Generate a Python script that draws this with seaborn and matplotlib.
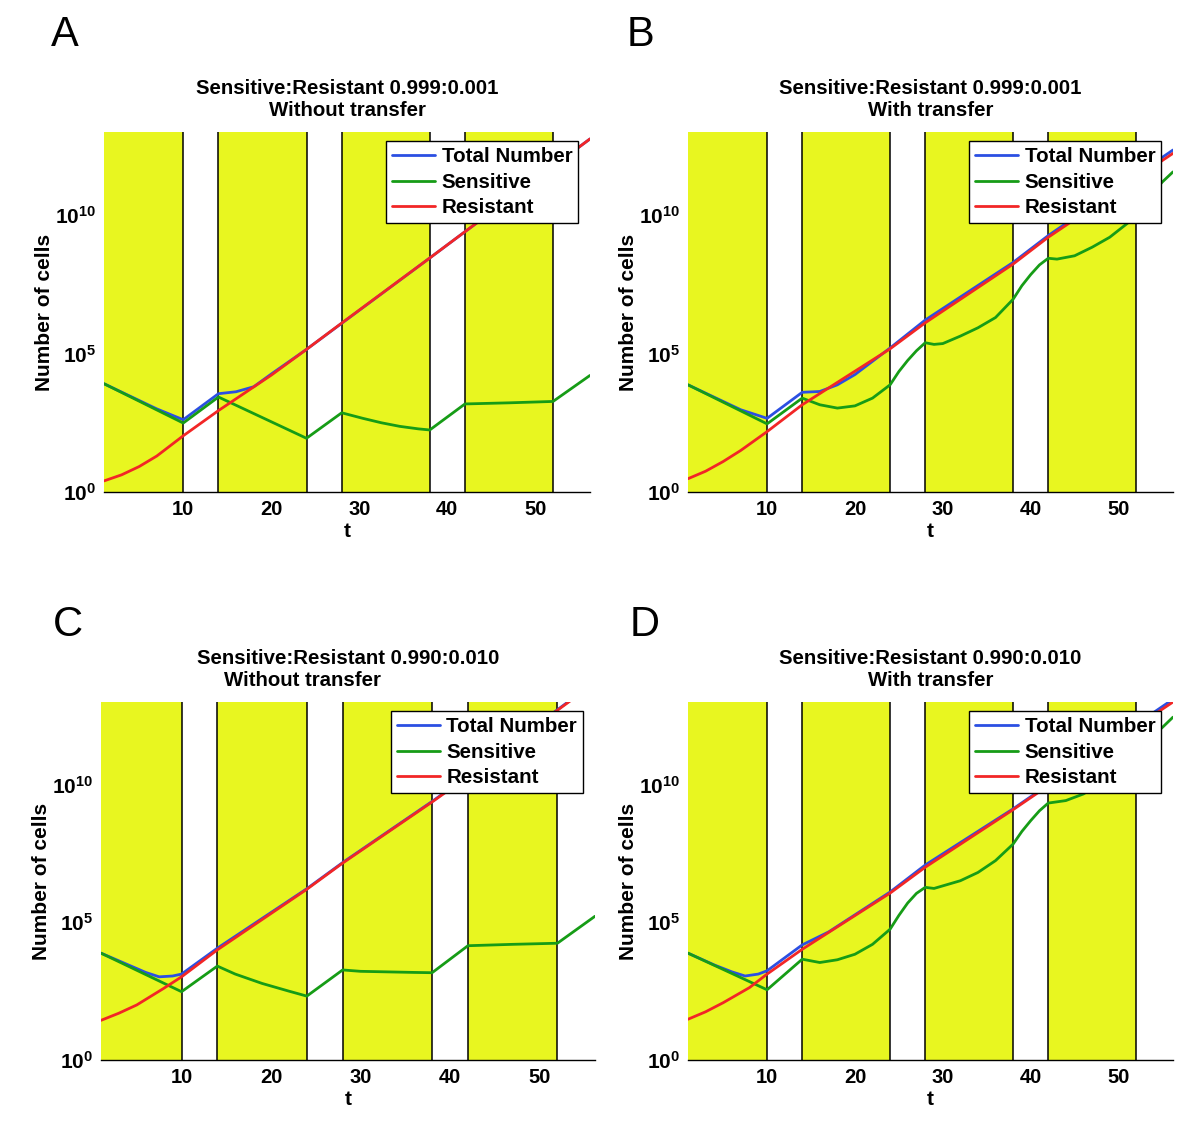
import matplotlib
matplotlib.use("Agg")
import matplotlib.pyplot as plt
import numpy as np
import pandas as pd
import seaborn as sns

# drug schedule: yellow bands are the drug-on periods
drug_start = [1, 14, 28, 42]
drug_stop = [10, 24, 38, 52]

# all cell numbers below are log10(number of cells)

# A: 0.999:0.001, without transfer
t_tot_a = [1, 7, 10, 14, 16, 18, 20, 24, 38, 42, 56.2]
tot_a = [3.91, 3.0, 2.61, 3.55, 3.62, 3.80, 4.26, 5.15, 8.45, 9.40, 12.75]
t_sens_a = [1, 10, 14, 24, 28, 30.4, 32.5, 34.6, 36.7, 38, 42, 47, 52, 56.2]
sens_a = [3.91, 2.49, 3.43, 1.94, 2.86, 2.66, 2.50, 2.37, 2.28, 2.24, 3.18, 3.22, 3.27, 4.21]
t_res_a = [1, 3, 5, 7, 10, 14, 20, 24, 28, 38, 42, 56.2]
res_a = [0.40, 0.62, 0.92, 1.30, 2.03, 2.94, 4.22, 5.15, 6.10, 8.45, 9.40, 12.75]

# B: 0.999:0.001, with transfer
t_tot_b = [1, 7, 10, 14, 16, 18, 20, 24, 28, 38, 42, 56.2]
tot_b = [3.87, 2.97, 2.66, 3.60, 3.63, 3.87, 4.24, 5.20, 6.21, 8.29, 9.26, 12.35]
t_sens_b = [1, 10, 14, 16, 18, 20, 22, 24, 25, 26, 27, 28, 29, 30, 32, 34, 36, 38,
            39, 40, 41, 42, 43, 45, 47, 49, 51, 52, 53, 54, 55, 56.2]
sens_b = [3.87, 2.46, 3.39, 3.15, 3.03, 3.11, 3.39, 3.87, 4.35, 4.75, 5.10, 5.39, 5.33, 5.36,
          5.63, 5.93, 6.30, 6.96, 7.45, 7.85, 8.20, 8.44, 8.41, 8.53, 8.84, 9.20, 9.70, 9.95,
          10.45, 10.85, 11.20, 11.56]
t_res_b = [1, 3, 5, 7, 10, 14, 24, 28, 38, 42, 56.2]
res_b = [0.48, 0.75, 1.10, 1.50, 2.18, 3.15, 5.17, 6.11, 8.23, 9.20, 12.23]

# C: 0.990:0.010, without transfer
t_tot_c = [1, 4, 6, 7.5, 9, 10, 14, 24, 28, 38, 42, 52, 56.2]
tot_c = [3.88, 3.46, 3.18, 3.02, 3.05, 3.12, 4.06, 6.22, 7.17, 9.39, 10.32, 12.72, 13.72]
t_sens_c = [1, 10, 14, 16, 19, 22, 24, 28, 30, 33, 36, 38, 42, 47, 52, 56.2]
sens_c = [3.88, 2.48, 3.41, 3.12, 2.78, 2.50, 2.32, 3.27, 3.22, 3.20, 3.18, 3.17, 4.15, 4.20, 4.24, 5.22]
t_res_c = [1, 3, 5, 8, 10, 14, 24, 28, 38, 42, 52, 56.2]
res_c = [1.44, 1.70, 2.00, 2.60, 3.02, 4.00, 6.20, 7.15, 9.37, 10.30, 12.70, 13.70]

# D: 0.990:0.010, with transfer
t_tot_d = [1, 4, 6, 7.5, 9, 10, 14, 17, 24, 28, 38, 42, 56.2]
tot_d = [3.88, 3.45, 3.20, 3.05, 3.12, 3.24, 4.18, 4.65, 6.10, 7.08, 9.12, 10.00, 13.10]
t_sens_d = [1, 10, 14, 16, 18, 20, 22, 24, 25, 26, 27, 28, 29, 32, 34, 36, 38, 39, 40, 41,
            42, 44, 46, 49, 52, 53, 54, 55, 56.2]
sens_d = [3.88, 2.55, 3.66, 3.54, 3.64, 3.84, 4.20, 4.75, 5.25, 5.70, 6.05, 6.27, 6.23, 6.51,
          6.81, 7.24, 7.84, 8.30, 8.69, 9.05, 9.33, 9.42, 9.66, 10.25, 10.86, 11.40, 11.80,
          12.08, 12.45]
t_res_d = [1, 3, 5, 8, 10, 14, 24, 28, 38, 42, 56.2]
res_d = [1.48, 1.75, 2.08, 2.63, 3.12, 4.02, 6.06, 7.00, 9.09, 9.96, 13.00]

title_top = ["Sensitive:Resistant 0.999:0.001", "Sensitive:Resistant 0.999:0.001",
             "Sensitive:Resistant 0.990:0.010", "Sensitive:Resistant 0.990:0.010"]
title_bottom = ["Without transfer", "With transfer", "Without transfer", "With transfer"]
letters = ["A", "B", "C", "D"]
series_names = ["Total Number", "Sensitive", "Resistant"]

panels = [
    (t_tot_a, tot_a, t_sens_a, sens_a, t_res_a, res_a),
    (t_tot_b, tot_b, t_sens_b, sens_b, t_res_b, res_b),
    (t_tot_c, tot_c, t_sens_c, sens_c, t_res_c, res_c),
    (t_tot_d, tot_d, t_sens_d, sens_d, t_res_d, res_d),
]

sns.set_style("white")
plt.rcParams["font.family"] = ["Liberation Sans", "DejaVu Sans"]
plt.rcParams["mathtext.fontset"] = "custom"
plt.rcParams["mathtext.rm"] = "Liberation Sans"
plt.rcParams["mathtext.bf"] = "Liberation Sans:bold"
for key in ["text.color", "axes.labelcolor", "xtick.color", "ytick.color"]:
    plt.rcParams[key] = "black"

palette = {"Total Number": "#2b4fe2", "Sensitive": "#169c16", "Resistant": "#f22626"}
yellow = "#e8f620"

W, H = 1200, 1137
fig = plt.figure(figsize=(12, 11.37), dpi=100)

# axes boxes in pixels: left, top, right, bottom
boxes = [(104, 132, 590, 492), (688, 132, 1173, 492),
         (101, 702, 595, 1060), (688, 702, 1173, 1060)]
letter_pos = [(65, 35), (640, 35), (68, 625), (645, 625)]
line2_x = [0.5, 0.5, 0.407, 0.5]


def long_form(tt, tv, st, sv, rt, rv):
    parts = []
    for name, t, v in zip(series_names, [tt, st, rt], [tv, sv, rv]):
        parts.append(pd.DataFrame({"t": t, "cells": np.power(10.0, v), "kind": name}))
    return pd.concat(parts, ignore_index=True)


for i, data in enumerate(panels):
    l, t, r, b = boxes[i]
    ax = fig.add_axes([l / W, 1 - b / H, (r - l) / W, (b - t) / H])
    df = long_form(*data)

    for a, z in zip(drug_start, drug_stop):
        ax.axvspan(a, z, color=yellow, lw=0, zorder=3)
    for x in sorted(set(drug_start[1:] + drug_stop)):
        ax.axvline(x, color="black", lw=1.1, zorder=3.5)

    sns.lineplot(data=df, x="t", y="cells", hue="kind", hue_order=series_names,
                 palette=palette, estimator=None, lw=2, ax=ax, zorder=5)
    ax.set_yscale("log")
    ax.set_xlim(1, 56.2)
    ax.set_ylim(1, 1e13)

    ax.set_xticks([10, 20, 30, 40, 50])
    ax.set_xticklabels(["10", "20", "30", "40", "50"], fontsize=14.5, fontweight="bold")
    ax.set_yticks([1, 1e5, 1e10])
    ax.set_yticklabels([r"$\mathbf{10^{0}}$", r"$\mathbf{10^{5}}$", r"$\mathbf{10^{10}}$"],
                       fontsize=15)
    ax.yaxis.set_minor_locator(matplotlib.ticker.NullLocator())
    ax.tick_params(direction="in", length=5, width=1, color="black", pad=6)

    for s in ["top", "left", "right"]:
        ax.spines[s].set_visible(False)
    ax.spines["bottom"].set_color("black")
    ax.spines["bottom"].set_linewidth(1)
    ax.spines["bottom"].set_zorder(6)

    ax.set_xlabel("t", fontsize=15, fontweight="bold")
    ax.set_ylabel("Number of cells", fontsize=15, fontweight="bold")
    ax.xaxis.set_label_coords(0.5, -30 / (b - t))
    ax.yaxis.set_label_coords(-50 / (r - l), 0.5)

    ax.text(0.5, 1 + 44 / (b - t), title_top[i], transform=ax.transAxes,
            ha="center", va="center", fontsize=14.7, fontweight="bold")
    ax.text(line2_x[i], 1 + 21 / (b - t), title_bottom[i], transform=ax.transAxes,
            ha="center", va="center", fontsize=14.7, fontweight="bold")

    handles, labels = ax.get_legend_handles_labels()
    leg = ax.legend(handles, labels, loc="upper right", bbox_to_anchor=(0.976, 0.975),
                    borderaxespad=0, fancybox=False, edgecolor="black", framealpha=1,
                    prop={"weight": "bold", "size": 14.8}, handlelength=2.1,
                    handletextpad=0.3, labelspacing=0.32, borderpad=0.3)
    leg.get_frame().set_linewidth(1)
    leg.set_zorder(10)

    lx, ly = letter_pos[i]
    fig.text(lx / W, 1 - ly / H, letters[i], fontsize=30, ha="center", va="center")

fig.savefig("out.png", dpi=100, facecolor="white")
